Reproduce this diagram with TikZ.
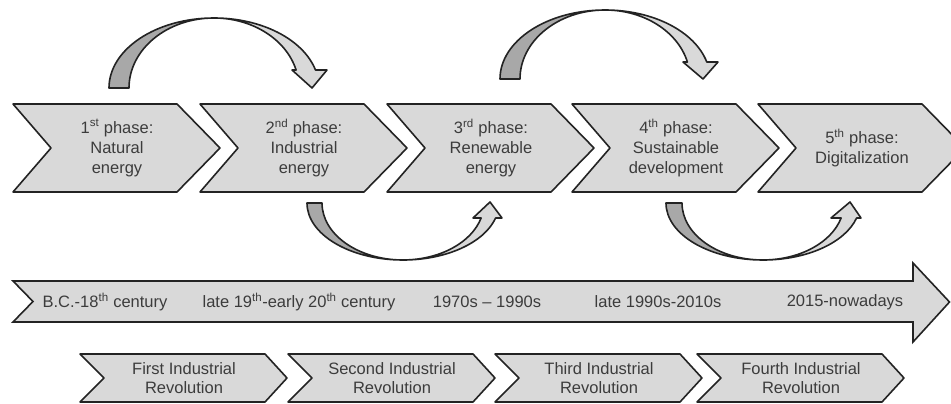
\documentclass[tikz,border=0pt]{standalone}
\usepackage{fontspec}
\setmainfont{Liberation Sans}
\definecolor{lgray}{RGB}{217,217,217}
\definecolor{dgray}{RGB}{168,168,168}
\definecolor{txtgray}{RGB}{60,60,60}
\definecolor{edge}{RGB}{35,35,35}
\newcommand\fsA{\fontsize{16.5}{20}\selectfont}
\newcommand\fsB{\fontsize{16.5}{19.5}\selectfont}
\tikzset{
  shp/.style={draw=edge, line width=1.6pt, fill=lgray, line join=round},
  dshp/.style={shp, fill=dgray},
  txt/.style={font=\fsA, text=txtgray, align=center, inner sep=0pt},
  btxt/.style={font=\fsB, text=txtgray, align=center, inner sep=0pt}
}
\newcommand\topchev[1]{\draw[shp] (#1,-104) -- (#1+164,-104) -- (#1+207,-148) -- (#1+164,-192) -- (#1,-192) -- (#1+38,-148) -- cycle;}
\newcommand\botchev[1]{\draw[shp] (#1,-354) -- (#1+185,-354) -- (#1+207,-378) -- (#1+185,-402) -- (#1,-402) -- (#1+24,-378) -- cycle;}
\begin{document}
\begin{tikzpicture}[x=1pt,y=1pt]
\useasboundingbox (0,0) rectangle (951,-404);
\fill[white] (0,0) rectangle (951,-404);

% top chevrons
\topchev{13}
\topchev{200}
\topchev{387}
\topchev{572}
\topchev{758}
\node[txt] (p1) at (117,-148) {1\textsuperscript{st} phase:\\Natural\\energy};
\node[txt] (p2) at (304,-148) {2\textsuperscript{nd} phase:\\Industrial\\energy};
\node[txt] (p3) at (491,-148) {3\textsuperscript{rd} phase:\\Renewable\\energy};
\node[txt] (p4) at (676,-148) {4\textsuperscript{th} phase:\\Sustainable\\development};
\node[txt] (p5) at (862,-148) {5\textsuperscript{th} phase:\\Digitalization};

% top curved arrow 1
\draw[dshp] (109,-88) arc[start angle=180, end angle=90, x radius=105, y radius=70]
  arc[start angle=90, end angle=180, x radius=85, y radius=70] -- cycle;
\draw[shp] (214,-18) arc[start angle=90, end angle=14.9, x radius=105, y radius=70]
  -- (327,-70) -- (312,-88) -- (292,-70) -- (296.1,-70)
  arc[start angle=14.9, end angle=90, x radius=85, y radius=70] -- cycle;

% top curved arrow 2
\draw[dshp] (500,-79) arc[start angle=180, end angle=90, x radius=105, y radius=69]
  arc[start angle=90, end angle=180, x radius=85, y radius=69] -- cycle;
\draw[shp] (605,-10) arc[start angle=90, end angle=14.26, x radius=105, y radius=69]
  -- (718,-62) -- (703,-79) -- (683,-62) -- (687.4,-62)
  arc[start angle=14.26, end angle=90, x radius=85, y radius=69] -- cycle;

% bottom curved arrow 3
\draw[dshp] (307,-203) arc[start angle=180, end angle=270, x radius=96, y radius=57]
  arc[start angle=270, end angle=180, x radius=81, y radius=57] -- cycle;
\draw[shp] (403,-260) arc[start angle=270, end angle=344.7, x radius=96, y radius=57]
  -- (502,-218) -- (490,-202) -- (473,-218) -- (481.1,-218)
  arc[start angle=344.7, end angle=270, x radius=81, y radius=57] -- cycle;

% bottom curved arrow 4
\draw[dshp] (666,-203) arc[start angle=180, end angle=270, x radius=97, y radius=57]
  arc[start angle=270, end angle=180, x radius=81, y radius=57] -- cycle;
\draw[shp] (763,-260) arc[start angle=270, end angle=344.7, x radius=97, y radius=57]
  -- (861,-218) -- (850,-202) -- (831,-218) -- (841.1,-218)
  arc[start angle=344.7, end angle=270, x radius=81, y radius=57] -- cycle;

% timeline arrow
\draw[shp, line join=miter] (13,-281) -- (913,-281) -- (913,-263) -- (949.5,-302) -- (913,-342) -- (913,-322) -- (13,-322) -- (33,-301.5) -- cycle;
\node[txt] (t1) at (105,-302) {B.C.-18\textsuperscript{th} century};
\node[txt] (t2) at (299,-302) {late 19\textsuperscript{th}-early 20\textsuperscript{th} century};
\node[txt] (t3) at (487,-302) {1970s -- 1990s};
\node[txt] (t4) at (658,-302) {late 1990s-2010s};
\node[txt] (t5) at (845,-302) {2015-nowadays};

% bottom chevrons
\botchev{80}
\botchev{288}
\botchev{495}
\botchev{697}
\node[btxt] (r1) at (184,-378) {First Industrial\\Revolution};
\node[btxt] (r2) at (392,-378) {Second Industrial\\Revolution};
\node[btxt] (r3) at (599,-378) {Third Industrial\\Revolution};
\node[btxt] (r4) at (801,-378) {Fourth Industrial\\Revolution};
\end{tikzpicture}
\end{document}
